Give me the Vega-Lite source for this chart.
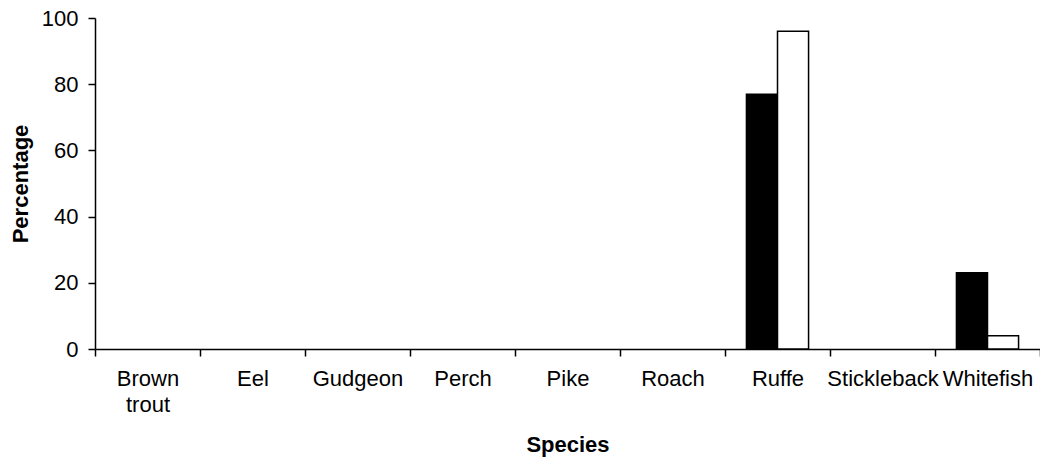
{
  "$schema": "https://vega.github.io/schema/vega-lite/v6.json",
  "autosize": {"type": "none"},
  "width": 945,
  "height": 331,
  "padding": {"left": 95, "top": 18, "right": 0, "bottom": 112},
  "background": "white",
  "config": {
    "view": {"stroke": null},
    "font": "Liberation Sans",
    "axis": {"labelFont": "Liberation Sans", "titleFont": "Liberation Sans", "labelColor": "#000", "titleColor": "#000", "domainColor": "#000", "tickColor": "#000", "grid": false}
  },
  "data": {
    "values": [
      {"species": "Brown trout", "series": "A", "pct": 0},
      {"species": "Brown trout", "series": "B", "pct": 0},
      {"species": "Eel", "series": "A", "pct": 0},
      {"species": "Eel", "series": "B", "pct": 0},
      {"species": "Gudgeon", "series": "A", "pct": 0},
      {"species": "Gudgeon", "series": "B", "pct": 0},
      {"species": "Perch", "series": "A", "pct": 0},
      {"species": "Perch", "series": "B", "pct": 0},
      {"species": "Pike", "series": "A", "pct": 0},
      {"species": "Pike", "series": "B", "pct": 0},
      {"species": "Roach", "series": "A", "pct": 0},
      {"species": "Roach", "series": "B", "pct": 0},
      {"species": "Ruffe", "series": "A", "pct": 77},
      {"species": "Ruffe", "series": "B", "pct": 96},
      {"species": "Stickleback", "series": "A", "pct": 0},
      {"species": "Stickleback", "series": "B", "pct": 0},
      {"species": "Whitefish", "series": "A", "pct": 23},
      {"species": "Whitefish", "series": "B", "pct": 4}
    ]
  },
  "transform": [{"filter": "datum.pct > 0"}],
  "mark": {"type": "bar", "stroke": "#000", "strokeWidth": 1.5},
  "encoding": {
    "x": {
      "field": "species",
      "type": "nominal",
      "sort": ["Brown trout", "Eel", "Gudgeon", "Perch", "Pike", "Roach", "Ruffe", "Stickleback", "Whitefish"],
      "scale": {"domain": ["Brown trout", "Eel", "Gudgeon", "Perch", "Pike", "Roach", "Ruffe", "Stickleback", "Whitefish"], "paddingInner": 0, "paddingOuter": 0},
      "axis": {
        "title": "Species",
        "titleFontSize": 22,
        "titleFontWeight": "bold",
        "titleX": 472.5,
        "titleY": 95,
        "titleBaseline": "middle",
        "labelAngle": 0,
        "labelFontSize": 22,
        "labelPadding": 12,
        "labelLineHeight": 26,
        "labelExpr": "datum.value == 'Brown trout' ? ['Brown', 'trout'] : datum.value",
        "tickBand": "extent",
        "tickSize": 7,
        "tickWidth": 1.5,
        "domainWidth": 1.5
      }
    },
    "xOffset": {
      "field": "series",
      "type": "nominal",
      "sort": ["A", "B"],
      "scale": {"domain": ["A", "B"], "paddingInner": 0, "paddingOuter": 0.69}
    },
    "y": {
      "field": "pct",
      "type": "quantitative",
      "scale": {"domain": [0, 100], "nice": false},
      "axis": {
        "title": "Percentage",
        "titleFontSize": 22,
        "titleFontWeight": "bold",
        "titleX": -75,
        "titleY": 165.5,
        "titleAngle": -90,
        "titleAlign": "center",
        "titleBaseline": "middle",
        "values": [0, 20, 40, 60, 80, 100],
        "labelFontSize": 22,
        "labelPadding": 10,
        "tickSize": 7,
        "tickWidth": 1.5,
        "domainWidth": 1.5
      }
    },
    "fill": {
      "field": "series",
      "type": "nominal",
      "scale": {"domain": ["A", "B"], "range": ["#000000", "#ffffff"]},
      "legend": null
    }
  }
}
